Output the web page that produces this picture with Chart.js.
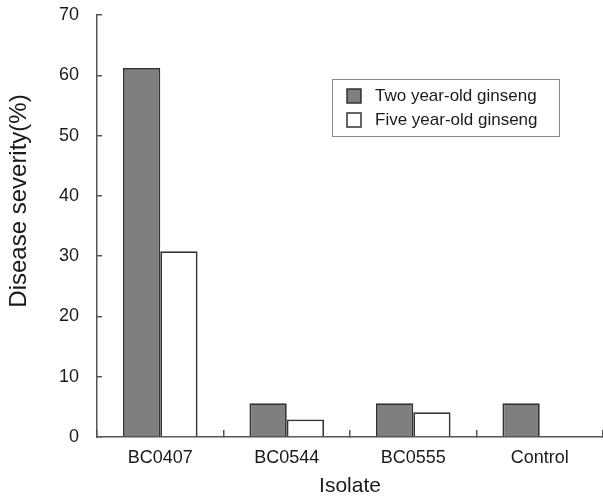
<!DOCTYPE html>
<html>
<head>
<meta charset="utf-8">
<script src="https://cdn.jsdelivr.net/npm/chart.js@4/dist/chart.umd.min.js"></script>
<style>
  html, body { margin: 0; padding: 0; background: #ffffff; }
  #wrap { width: 603px; height: 496px; }
</style>
</head>
<body>
<div id="wrap"><canvas id="c" width="603" height="496"></canvas></div>
<script>
const categories = ["BC0407", "BC0544", "BC0555", "Control"];
const seriesNames = ["Two year-old ginseng", "Five year-old ginseng"];
const twoYear = [61.2, 5.6, 5.6, 5.6];
const fiveYear = [30.8, 2.9, 4.1, 0];
const yTicks = [0, 10, 20, 30, 40, 50, 60, 70];
const xTitle = "Isolate";
const yTitle = "Disease severity(%)";

const AXIS = '#555555';
const TEXT = '#1a1a1a';
const FONT = "'Liberation Sans', Arial, sans-serif";
Chart.defaults.font.family = FONT;
Chart.defaults.color = TEXT;

const legendPlugin = {
  id: 'boxLegend',
  afterDatasetsDraw(chart) {
    const ctx = chart.ctx;
    const bx = 332, by = 79, bw = 227, bh = 57;
    ctx.save();
    ctx.strokeStyle = '#8a8a8a';
    ctx.lineWidth = 1;
    ctx.fillStyle = '#ffffff';
    ctx.fillRect(bx, by, bw, bh);
    ctx.strokeRect(bx + 0.5, by + 0.5, bw, bh);
    ctx.font = "17px " + FONT;
    ctx.textBaseline = 'middle';
    chart.data.datasets.forEach((ds, i) => {
      const cy = 96 + i * 24;
      ctx.fillStyle = ds.backgroundColor;
      ctx.fillRect(347, cy - 7, 14, 14);
      ctx.strokeStyle = '#333333';
      ctx.lineWidth = 1.5;
      ctx.strokeRect(347, cy - 7, 14, 14);
      ctx.fillStyle = TEXT;
      ctx.fillText(ds.label, 375, cy);
    });
    ctx.restore();
  }
};

const yTitlePlugin = {
  id: 'yTitle',
  afterDraw(chart) {
    const ctx = chart.ctx;
    ctx.save();
    ctx.translate(19, 201);
    ctx.rotate(-Math.PI / 2);
    ctx.font = "24px " + FONT;
    ctx.fillStyle = TEXT;
    ctx.textAlign = 'center';
    ctx.textBaseline = 'middle';
    ctx.fillText(yTitle, 0, 0);
    ctx.restore();
  }
};

new Chart(document.getElementById('c'), {
  type: 'bar',
  data: {
    labels: categories,
    datasets: [
      { label: seriesNames[0], data: twoYear, backgroundColor: '#7f7f7f', borderColor: '#333333', borderWidth: 1.8, borderSkipped: 'bottom' },
      { label: seriesNames[1], data: fiveYear, backgroundColor: '#ffffff', borderColor: '#333333', borderWidth: 1.8, borderSkipped: 'bottom' }
    ]
  },
  options: {
    responsive: false,
    animation: false,
    categoryPercentage: 0.59,
    barPercentage: 1.0,
    layout: { padding: { top: 15, right: 0, left: 0, bottom: 0 } },
    plugins: { legend: { display: false }, tooltip: { enabled: false } },
    scales: {
      x: {
        offset: true,
        afterFit(scale) {
          scale.height = 59;
          scale.paddingLeft = 0; scale.paddingRight = 0;
        },
        grid: {
          offset: true,
          drawOnChartArea: false,
          drawTicks: true,
          tickLength: -7,
          lineWidth: 1.5,
          color: AXIS
        },
        border: { display: true, color: AXIS, width: 1.5 },
        ticks: {
          autoSkip: false,
          maxRotation: 0,
          padding: 17,
          font: { size: 18 },
          color: TEXT
        },
        title: { display: true, text: xTitle, font: { size: 21 }, color: TEXT, padding: { top: 0, bottom: -3 } }
      },
      y: {
        min: 0,
        max: 70,
        afterBuildTicks(scale) { scale.ticks = yTicks.map(v => ({ value: v })); },
        afterFit(scale) {
          scale.width = 97;
          scale.paddingTop = 0; scale.paddingBottom = 0;
        },
        grid: { drawOnChartArea: false, drawTicks: true, tickLength: -5, lineWidth: 1.5, color: AXIS },
        border: { display: true, color: AXIS, width: 1.5 },
        ticks: { padding: 23, font: { size: 18 }, color: TEXT },
        title: { display: false }
      }
    }
  },
  plugins: [legendPlugin, yTitlePlugin]
});
</script>
</body>
</html>
